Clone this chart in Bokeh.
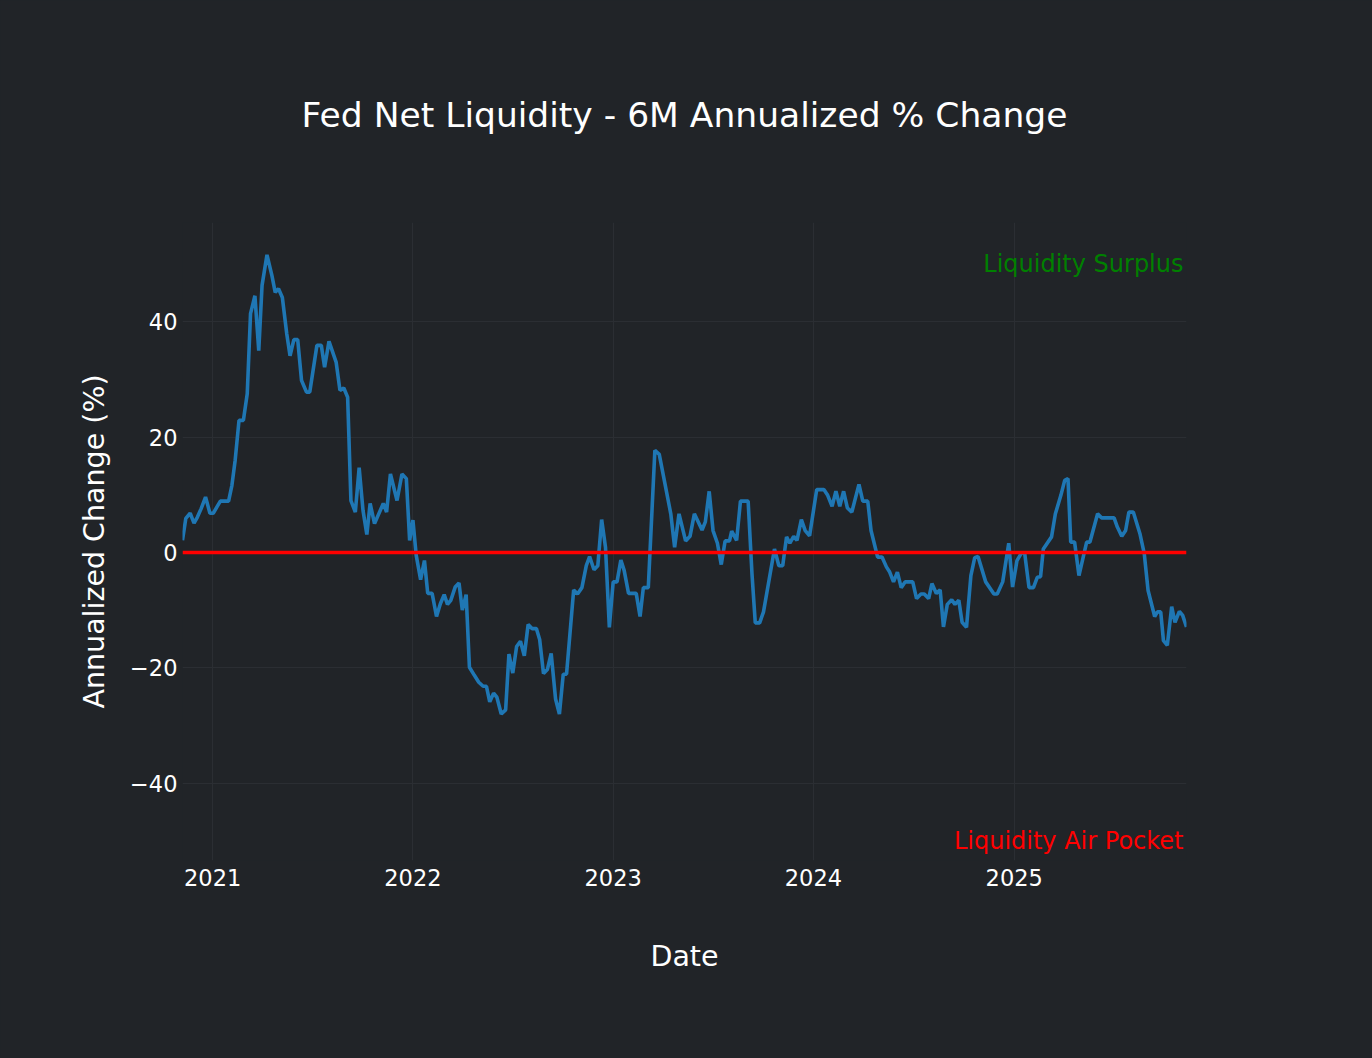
import pandas as pd

from bokeh.plotting import figure
from bokeh.models import Range1d, FixedTicker, DatetimeTickFormatter, Span, Label
from bokeh.embed import file_html
from bokeh.resources import INLINE

# values (weekly series, turning points)
dates = [
    "2020-11-07", "2020-11-13", "2020-11-21", "2020-11-28", "2020-12-04", "2020-12-11", "2020-12-19", "2020-12-27",
    "2021-01-02", "2021-01-15", "2021-01-30", "2021-02-05", "2021-02-11", "2021-02-18", "2021-02-26", "2021-03-05",
    "2021-03-11", "2021-03-19", "2021-03-26", "2021-04-01", "2021-04-10", "2021-04-19", "2021-04-25", "2021-05-01",
    "2021-05-08", "2021-05-16", "2021-05-22", "2021-05-29", "2021-06-05", "2021-06-12", "2021-06-21", "2021-06-27",
    "2021-07-10", "2021-07-18", "2021-07-24", "2021-08-01", "2021-08-14", "2021-08-21", "2021-08-28", "2021-09-04",
    "2021-09-10", "2021-09-18", "2021-09-25", "2021-10-02", "2021-10-09", "2021-10-15", "2021-10-23", "2021-11-08",
    "2021-11-14", "2021-11-21", "2021-12-03", "2021-12-12", "2021-12-20", "2021-12-26",
    "2022-01-01", "2022-01-07", "2022-01-15", "2022-01-22", "2022-01-28", "2022-02-05", "2022-02-13", "2022-02-20",
    "2022-02-27", "2022-03-05", "2022-03-11", "2022-03-19", "2022-03-26", "2022-04-01", "2022-04-08", "2022-04-14",
    "2022-04-23", "2022-05-01", "2022-05-09", "2022-05-15", "2022-05-21", "2022-05-28", "2022-06-03", "2022-06-11",
    "2022-06-19", "2022-06-25", "2022-07-02", "2022-07-09", "2022-07-16", "2022-07-23", "2022-07-30", "2022-08-06",
    "2022-08-14", "2022-08-20", "2022-08-27", "2022-09-03", "2022-09-10", "2022-09-18", "2022-09-25", "2022-10-02",
    "2022-10-08", "2022-10-21", "2022-10-28", "2022-11-05", "2022-11-13", "2022-11-19", "2022-11-27", "2022-12-04",
    "2022-12-11", "2022-12-18", "2022-12-25",
    "2023-01-01", "2023-01-08", "2023-01-15", "2023-01-21", "2023-01-29", "2023-02-12", "2023-02-19", "2023-02-25",
    "2023-03-06", "2023-03-18", "2023-03-26", "2023-04-16", "2023-04-23", "2023-05-01", "2023-05-13", "2023-05-21",
    "2023-05-29", "2023-06-12", "2023-06-18", "2023-06-25", "2023-07-02", "2023-07-10", "2023-07-17", "2023-07-24",
    "2023-08-01", "2023-08-05", "2023-08-14", "2023-08-21", "2023-09-04", "2023-09-11", "2023-09-17", "2023-09-25",
    "2023-10-02", "2023-10-22", "2023-10-30", "2023-11-06", "2023-11-13", "2023-11-19", "2023-11-26", "2023-12-02",
    "2023-12-10", "2023-12-17", "2023-12-25",
    "2024-01-07", "2024-01-20", "2024-01-27", "2024-02-04", "2024-02-11", "2024-02-18", "2024-02-25", "2024-03-03",
    "2024-03-11", "2024-03-24", "2024-03-31", "2024-04-09", "2024-04-15", "2024-04-27", "2024-05-05", "2024-05-13",
    "2024-05-19", "2024-05-26", "2024-06-02", "2024-06-09", "2024-06-16", "2024-06-30", "2024-07-07", "2024-07-15",
    "2024-07-21", "2024-07-29", "2024-08-04", "2024-08-12", "2024-08-19", "2024-08-25", "2024-09-01", "2024-09-09",
    "2024-09-15", "2024-09-22", "2024-09-28", "2024-10-06", "2024-10-14", "2024-10-21", "2024-10-27", "2024-11-10",
    "2024-11-25", "2024-12-01", "2024-12-11", "2024-12-22", "2024-12-29",
    "2025-01-06", "2025-01-14", "2025-01-20", "2025-01-28", "2025-02-05", "2025-02-12", "2025-02-18", "2025-02-23",
    "2025-03-10", "2025-03-17", "2025-03-27", "2025-04-03", "2025-04-09", "2025-04-14", "2025-04-21", "2025-04-29",
    "2025-05-13", "2025-05-19", "2025-06-02", "2025-06-09", "2025-07-02", "2025-07-08", "2025-07-16", "2025-07-23",
    "2025-07-29", "2025-08-06", "2025-08-18", "2025-08-26", "2025-09-02", "2025-09-14", "2025-09-19", "2025-09-25",
    "2025-09-30", "2025-10-07", "2025-10-15", "2025-10-21", "2025-10-29", "2025-11-04", "2025-11-11",
]
values = [
    2.1, 5.9, 6.8, 5.1, 6.1, 7.6, 9.6, 6.8,
    6.8, 8.9, 8.9, 11.6, 16, 22.9, 22.9, 27.5,
    41.4, 44.5, 35, 46.3, 51.6, 48, 45.1, 45.7,
    44.2, 37.9, 34.1, 36.9, 36.9, 29.8, 27.8, 27.8,
    35.9, 35.9, 32.1, 36.6, 33, 28.1, 28.5, 26.9,
    9, 7, 14.7, 7.3, 3.1, 8.5, 5, 8.5,
    7, 13.6, 9, 13.6, 12.8, 2.1,
    5.6, -0.5, -4.7, -1.4, -7.1, -7.1, -11.1, -8.9,
    -7.3, -9, -8.3, -6, -5.3, -10, -7.3, -19.9,
    -21.3, -22.5, -23.2, -23.2, -25.9, -24.4, -25.1, -28,
    -27.3, -17.6, -20.9, -16.3, -15.4, -17.9, -12.5, -13.2,
    -13.2, -15.1, -21, -20.3, -17.5, -25.4, -28, -21.1,
    -21.1, -6.5, -7.2, -6.1, -2.3, -0.7, -3, -2.3,
    5.7, 0.9, -13,
    -5.1, -5.1, -1.3, -3.1, -7.1, -7.1, -11.1, -6.1,
    -6.1, 17.7, 17, 6.7, 0.9, 6.7, 2, 2.8,
    6.7, 3.9, 5.3, 10.6, 3.8, 1.6, -2.1, 2,
    2, 3.7, 2.1, 8.9, 8.9, -3.7, -12.2, -12.2,
    -10.3, 0.6, -2.3, -2.3, 2.7, 1.6, 2.8, 2.1,
    5.7, 3.8, 2.9,
    10.9, 10.9, 9.9, 8, 10.6, 8, 10.6, 7.7,
    7, 11.8, 8.9, 8.9, 3.8, -0.8, -0.8, -2.5,
    -3.4, -5.1, -3.4, -6.1, -5.1, -5.1, -8, -7.2,
    -7.2, -8, -5.4, -7.1, -6.5, -12.9, -9, -8.2,
    -9, -8.3, -12.1, -13, -4, -0.9, -0.7, -5.1,
    -7.2, -7.2, -5.1, 1.6, -6,
    -1.4, -0.1, -0.1, -6.1, -6.1, -4.3, -4.2, 0.6,
    2.7, 6.7, 9.9, 12.5, 12.8, 1.8, 1.8, -4,
    1.8, 1.8, 6.7, 6, 6, 4.4, 2.8, 3.8,
    7, 7, 3.3, -0.2, -6.6, -11.1, -10.3, -10.3,
    -15.3, -16.1, -9.4, -12.1, -10.2, -10.9, -12.9,
]

year_ticks = [2021, 2022, 2023, 2024, 2025]
y_ticks = [-40, -20, 0, 20, 40]
y_tick_labels = ["\u221240", "\u221220", "0", "20", "40"]

title_text = "Fed Net Liquidity - 6M Annualized % Change"
surplus_text = "Liquidity Surplus"
pocket_text = "Liquidity Air Pocket"
surplus_level = 50
pocket_level = -50

BG = "#212428"
GRID = "#2b2e33"
FONT = "DejaVu Sans"

x = pd.to_datetime(dates)

p = figure(width=1372, height=1058, x_axis_type="datetime",
           x_range=Range1d(x[0], x[-1]), y_range=Range1d(-53.4, 57.2),
           output_backend="svg", toolbar_location=None,
           min_border_left=182, min_border_right=186, min_border_top=222, min_border_bottom=198,
           background_fill_color=BG, border_fill_color=BG, outline_line_color=None)

p.title.text = title_text
p.title.align = "center"
p.title.text_font = FONT
p.title.text_font_size = "34.5px"
p.title.text_font_style = "normal"
p.title.text_color = "white"
p.title.standoff = 176

p.xaxis.ticker = FixedTicker(ticks=[pd.Timestamp(f"{yr}-01-01").timestamp() * 1000 for yr in year_ticks])
p.xaxis.formatter = DatetimeTickFormatter(days="%Y", months="%Y", years="%Y")
p.yaxis.ticker = FixedTicker(ticks=y_ticks)
p.yaxis.major_label_overrides = dict(zip(y_ticks, y_tick_labels))

p.xaxis.axis_label = "Date"
p.yaxis.axis_label = "Annualized Change (%)"

for ax in (p.xaxis, p.yaxis):
    ax.axis_line_color = None
    ax.major_tick_line_color = None
    ax.minor_tick_line_color = None
    ax.major_tick_out = 0
    ax.major_label_text_color = "white"
    ax.major_label_text_font = FONT
    ax.major_label_text_font_size = "22.5px"
    ax.axis_label_text_color = "white"
    ax.axis_label_text_font = FONT
    ax.axis_label_text_font_size = "28.5px"
    ax.axis_label_text_font_style = "normal"

p.xaxis.major_label_standoff = 8
p.xaxis.axis_label_standoff = 51
p.yaxis.major_label_standoff = 5
p.yaxis.axis_label_standoff = 16

p.xgrid.grid_line_color = GRID
p.ygrid.grid_line_color = GRID

p.line(x, values, line_color="#1f77b4", line_width=3.6)

p.add_layout(Span(location=0, dimension="width", line_color="red", line_width=3.5))

x_end = x[-1].timestamp() * 1000
p.add_layout(Label(x=x_end, y=surplus_level, text=surplus_text, text_align="right", text_baseline="middle",
                   x_offset=-3, text_color="green", text_font=FONT, text_font_size="24px"))
p.add_layout(Label(x=x_end, y=pocket_level, text=pocket_text, text_align="right", text_baseline="middle",
                   x_offset=-3, text_color="red", text_font=FONT, text_font_size="24px"))

html = file_html(p, INLINE).replace("<body>", '<body style="background-color: %s;">' % BG)
open("out.html", "w").write(html)
